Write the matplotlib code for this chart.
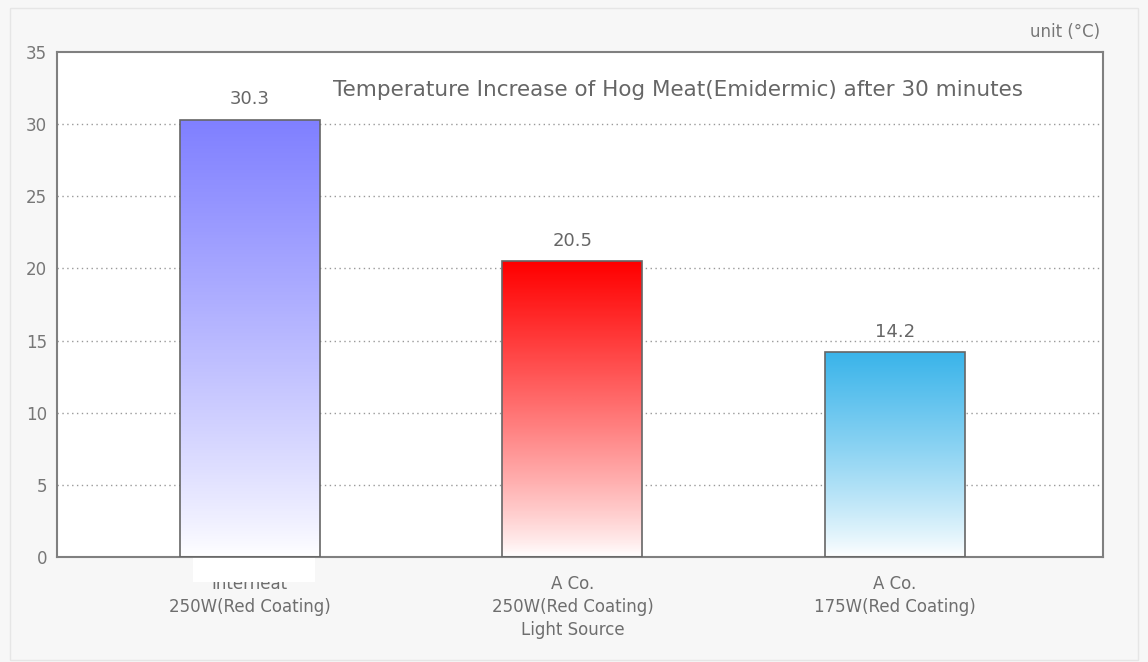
import numpy as np
import matplotlib.pyplot as plt
from matplotlib.colors import LinearSegmentedColormap
from matplotlib.patches import Rectangle

# data
categories = ['Interheat\n250W(Red Coating)',
              'A Co.\n250W(Red Coating)\nLight Source',
              'A Co.\n175W(Red Coating)']
values = [30.3, 20.5, 14.2]
top_colors = ['#8080ff', '#ff0000', '#3ab4ea']
yticks = [0, 5, 10, 15, 20, 25, 30, 35]

W, H = 1148, 662
fig = plt.figure(figsize=(W / 100, H / 100), dpi=100)
fig.patch.set_facecolor('#f7f7f7')
fig.patches.append(Rectangle((10 / W, 2 / H), 1128 / W, 652 / H, transform=fig.transFigure,
                             facecolor='#f7f7f7', edgecolor='#e6e6e6', lw=1, zorder=-5))

ax = fig.add_axes([57 / W, 1 - 557 / H, (1103 - 57) / W, (557 - 52) / H])
ax.set_facecolor('white')
ax.set_xlim(-0.598, 2.645)
ax.set_ylim(0, 35)

grey = '#808080'
for s in ax.spines.values():
    s.set_color(grey)
    s.set_linewidth(1.5)

for y in yticks[1:-1]:
    ax.axhline(y, color='#999999', lw=1, ls=(0, (1, 2.5)), zorder=1)

width = 0.434
grad = np.linspace(0, 1, 256).reshape(-1, 1)
for i, (v, c) in enumerate(zip(values, top_colors)):
    x0 = i - width / 2
    cmap = LinearSegmentedColormap.from_list('g%d' % i, ['white', c])
    im = ax.imshow(grad ** 0.85, extent=(x0, x0 + width, 0, v), origin='lower', aspect='auto',
                   cmap=cmap, vmin=0, vmax=1, zorder=2)
    r = Rectangle((x0, 0), width, v, facecolor='none', edgecolor='#666666', lw=1.2, zorder=3)
    ax.add_patch(r)
    im.set_clip_path(r)
    ax.text(i, v + 0.8, '%.1f' % v, ha='center', va='bottom', fontsize=13, color='#666666')

ax.set_xticks(range(len(categories)))
ax.set_xticklabels(categories, fontsize=12, color='#6e6e6e', linespacing=1.35)
ax.set_yticks(yticks)
ax.set_yticklabels([str(t) for t in yticks], fontsize=12, color='#777777')
ax.tick_params(length=0, pad=7)
ax.tick_params(axis='x', pad=13)

ax.text(0.594, 0.925, 'Temperature Increase of Hog Meat(Emidermic) after 30 minutes',
        transform=ax.transAxes, ha='center', va='center', fontsize=15.5, color='#666666')
fig.text(1100 / W, 1 - 32 / H, 'unit (\u00b0C)', ha='right', va='center', fontsize=12, color='#777777')

# white block partly hiding the first label
fig.patches.append(Rectangle((193 / W, 1 - 582 / H), 122 / W, 24 / H, transform=fig.transFigure,
                             facecolor='white', edgecolor='none', zorder=5))

fig.savefig('out.png', dpi=100)
